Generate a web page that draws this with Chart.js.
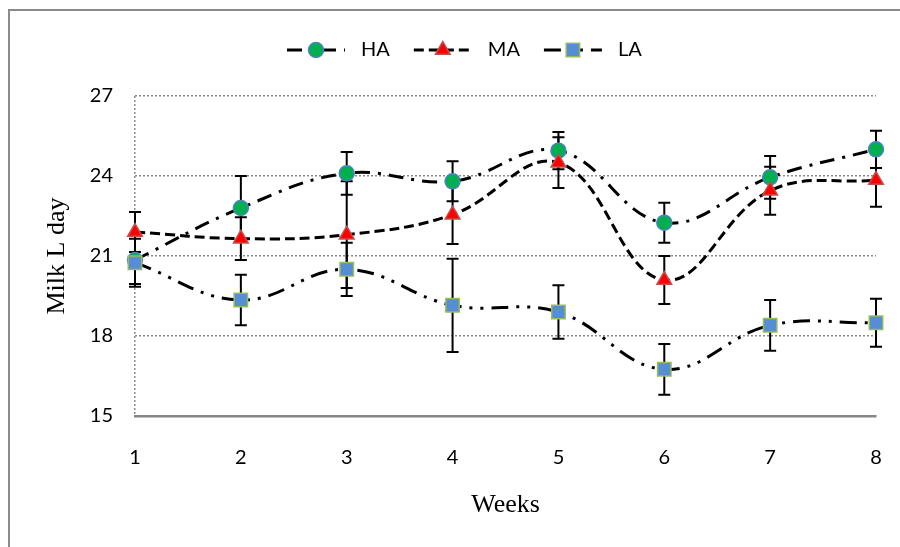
<!DOCTYPE html>
<html>
<head>
<meta charset="utf-8">
<script src="https://cdn.jsdelivr.net/npm/chart.js@4/dist/chart.umd.min.js"></script>
<style>
  html, body { margin: 0; padding: 0; background: #fff; }
  #wrap { width: 900px; height: 547px; }
</style>
</head>
<body>
<div id="wrap"><canvas id="milk-chart" width="900" height="547"></canvas></div>
<script>
// weeks and mean milk yield (L/day) per group, with error bar half-lengths
const weeks = ['1', '2', '3', '4', '5', '6', '7', '8'];
const haValues = [20.85, 22.8, 24.1, 23.8, 24.95, 22.25, 23.95, 25.0];
const haErrors = [0.9, 1.2, 0.8, 0.75, 0.7, 0.75, 0.8, 0.7];
const maValues = [21.9, 21.65, 21.8, 22.55, 24.5, 20.1, 23.45, 23.85];
const maErrors = [0.75, 0.8, 2.0, 1.1, 0.95, 0.9, 0.9, 1.0];
const laValues = [20.75, 19.35, 20.5, 19.15, 18.9, 16.75, 18.4, 18.5];
const laErrors = [0.9, 0.95, 1.0, 1.75, 1.0, 0.95, 0.95, 0.9];
const yTicks = [15, 18, 21, 24, 27];

const tickFont = { family: 'Lato, "Liberation Sans", sans-serif', size: 20 };
const titleFont = { family: '"Liberation Serif", "DejaVu Serif", serif', size: 26 };

const series = [
    { label: 'HA', data: haValues, errors: haErrors, dash: [15, 8, 3, 8],
      pointStyle: 'circle', radius: 7.5, fill: '#00B050', stroke: '#4F81BD', order: 2 },
    { label: 'MA', data: maValues, errors: maErrors, dash: [10, 5],
      pointStyle: 'triangle', radius: 8.5, fill: '#FF0000', stroke: '#C0504D', order: 1 },
    { label: 'LA', data: laValues, errors: laErrors, dash: [17, 8, 3, 8, 3, 8],
      pointStyle: 'rect', radius: 9.5, fill: '#558ED5', stroke: '#9BBB59', order: 0 }
];

// white page with the grey frame of the original figure
const framePlugin = {
    id: 'frame',
    beforeDraw(chart) {
        const ctx = chart.ctx;
        ctx.save();
        ctx.fillStyle = '#fff';
        ctx.fillRect(0, 0, chart.width, chart.height);
        ctx.strokeStyle = '#8a8a8a';
        ctx.lineWidth = 2;
        ctx.strokeRect(9, 10, chart.width + 20, chart.height + 20);
        ctx.restore();
    }
};

// vertical error bars with caps, under the markers
const errorBarPlugin = {
    id: 'errorBars',
    beforeDatasetsDraw(chart) {
        const ctx = chart.ctx;
        const yScale = chart.scales.y;
        ctx.save();
        ctx.strokeStyle = '#000';
        ctx.lineWidth = 2;
        chart.data.datasets.forEach((ds, di) => {
            const meta = chart.getDatasetMeta(di);
            meta.data.forEach((pt, i) => {
                const v = ds.data[i];
                const e = ds.errors[i];
                const top = yScale.getPixelForValue(v + e);
                const bot = yScale.getPixelForValue(v - e);
                ctx.beginPath();
                ctx.moveTo(pt.x, top);
                ctx.lineTo(pt.x, bot);
                ctx.moveTo(pt.x - 6, top);
                ctx.lineTo(pt.x + 6, top);
                ctx.moveTo(pt.x - 6, bot);
                ctx.lineTo(pt.x + 6, bot);
                ctx.stroke();
            });
        });
        ctx.restore();
    }
};

// legend drawn as line sample + marker + label, like the spreadsheet legend
const lineLegendPlugin = {
    id: 'lineLegend',
    afterDraw(chart) {
        const ctx = chart.ctx;
        const y = 50;
        const lineLen = 58;
        let x = 287;
        ctx.save();
        ctx.font = `${tickFont.size}px ${tickFont.family}`;
        ctx.textBaseline = 'middle';
        chart.data.datasets.forEach(ds => {
            ctx.strokeStyle = '#000';
            ctx.lineWidth = 3;
            ctx.setLineDash(ds.borderDash);
            ctx.beginPath();
            ctx.moveTo(x, y);
            ctx.lineTo(x + lineLen, y);
            ctx.stroke();
            ctx.setLineDash([]);
            ctx.fillStyle = ds.pointBackgroundColor;
            ctx.strokeStyle = ds.pointBorderColor;
            ctx.lineWidth = ds.pointBorderWidth;
            Chart.helpers.drawPoint(ctx, {
                pointStyle: ds.pointStyle, radius: ds.pointRadius, borderWidth: ds.pointBorderWidth
            }, x + lineLen / 2, y);
            ctx.fillStyle = '#000';
            ctx.fillText(ds.label, x + lineLen + 16, y);
            x += lineLen + 16 + ctx.measureText(ds.label).width + 24;
        });
        ctx.restore();
    }
};

new Chart(document.getElementById('milk-chart').getContext('2d'), {
    type: 'line',
    data: {
        labels: weeks,
        datasets: series.map(s => ({
            label: s.label,
            data: s.data,
            errors: s.errors,
            order: s.order,
            borderColor: '#000',
            borderWidth: 3,
            borderDash: s.dash,
            tension: 0.4,
            fill: false,
            pointStyle: s.pointStyle,
            pointRadius: s.radius,
            pointBackgroundColor: s.fill,
            pointBorderColor: s.stroke,
            pointBorderWidth: 1.5
        }))
    },
    options: {
        responsive: false,
        animation: false,
        layout: { padding: { left: 20, top: 96, right: 24, bottom: 0 } },
        plugins: {
            legend: { display: false },
            tooltip: { enabled: false }
        },
        scales: {
            x: {
                offset: false,
                grid: {
                    drawTicks: false,
                    lineWidth: 1.5,
                    color: c => c.index === 0 ? '#8c8c8c' : 'transparent'
                },
                border: { color: '#868686', width: 2.5, dash: [2, 2] },
                ticks: { color: '#000', font: tickFont, padding: 30 },
                title: { display: true, text: 'Weeks', color: '#000', font: titleFont, padding: { bottom: 26 } },
                afterFit: s => { s.height = 131; s.paddingLeft = 0; s.paddingRight = 0; }
            },
            y: {
                min: yTicks[0],
                max: yTicks[yTicks.length - 1],
                afterBuildTicks: s => { s.ticks = yTicks.map(v => ({ value: v })); },
                grid: {
                    drawTicks: false,
                    lineWidth: 1.5,
                    color: c => c.index === 0 ? 'transparent' : '#8c8c8c'
                },
                border: { display: false, dash: [2, 2] },
                ticks: { color: '#000', font: tickFont, padding: 22 },
                title: { display: true, text: 'Milk L day', color: '#000', font: titleFont, padding: { top: 22 } },
                afterFit: s => { s.width = 115; }
            }
        }
    },
    plugins: [framePlugin, errorBarPlugin, lineLegendPlugin]
});
</script>
</body>
</html>
